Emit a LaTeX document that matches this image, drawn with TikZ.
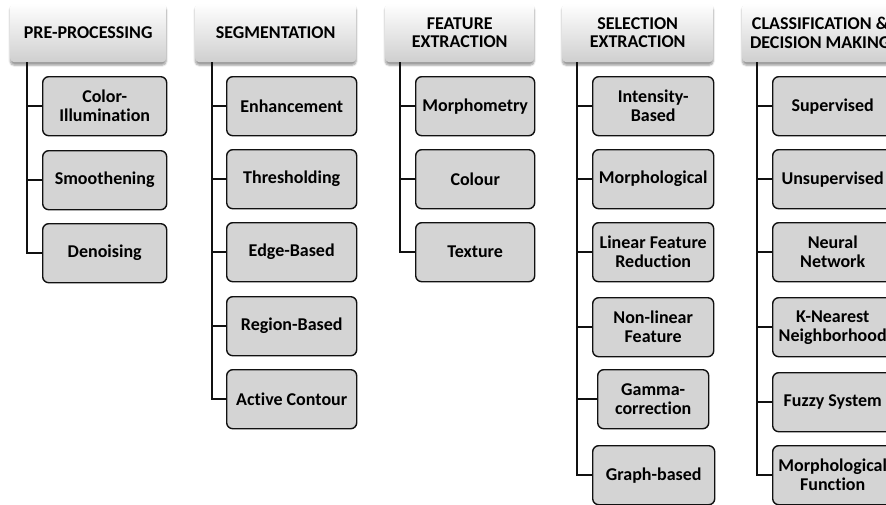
\documentclass[tikz,border=0pt]{standalone}
\usepackage{fontspec}
\setmainfont{Carlito}[Ligatures=NoCommon]
\usetikzlibrary{shadows.blur}
\definecolor{boxgray}{HTML}{D4D4D4}
\definecolor{hdrbot}{HTML}{CFCFCF}
\definecolor{linec}{HTML}{111111}
\tikzset{
  hdr/.style={anchor=north west, rounded corners=4pt, top color=white, bottom color=hdrbot,
    blur shadow={shadow xshift=0pt, shadow yshift=-3pt, shadow blur steps=6, shadow opacity=40},
    align=center, font=\fontsize{18}{18.5}\selectfont\bfseries, inner sep=1pt},
  kid/.style={anchor=north west, draw=linec, line width=1.4pt, rounded corners=6pt, fill=boxgray,
    align=center, font=\fontsize{18}{19}\selectfont\bfseries, inner sep=1pt, minimum height=59pt},
  conn/.style={draw=linec, line width=1.8pt},
}
\begin{document}
\begin{tikzpicture}[x=1pt,y=-1pt]
\useasboundingbox (0,0) rectangle (886,504);
% headers
\node[hdr, minimum width=156pt, minimum height=59pt] (h1) at (10,3) {PRE-PROCESSING};
\node[hdr, minimum width=161pt, minimum height=59pt] (h2) at (195,3) {SEGMENTATION};
\node[hdr, minimum width=149pt, minimum height=59pt] (h3) at (385,3) {FEATURE\\EXTRACTION};
\node[hdr, minimum width=151pt, minimum height=59pt] (h4) at (562,3) {SELECTION\\EXTRACTION};
\node[hdr, minimum width=156pt, minimum height=59pt] (h5) at (742,3) {CLASSIFICATION \&\\DECISION MAKING};
% trunk tops
\coordinate (t1) at (27,62);
\coordinate (t2) at (212,62);
\coordinate (t3) at (400,62);
\coordinate (t4) at (577,62);
\coordinate (t5) at (757,62);
% pre-processing
\node[kid, minimum width=124pt] (a1) at (42,76) {Color-\\Illumination};
\node[kid, minimum width=124pt] (a2) at (42,150) {Smoothening};
\node[kid, minimum width=124pt] (a3) at (42,223) {Denoising};
% segmentation
\node[kid, minimum width=130pt] (b1) at (226,76) {Enhancement};
\node[kid, minimum width=130pt] (b2) at (226,149) {Thresholding};
\node[kid, minimum width=130pt] (b3) at (226,222) {Edge-Based};
\node[kid, minimum width=130pt] (b4) at (226,296) {Region-Based};
\node[kid, minimum width=130pt] (b5) at (226,369) {Active Contour};
% feature extraction
\node[kid, minimum width=119pt] (c1) at (415,76) {Morphometry};
\node[kid, minimum width=119pt] (c2) at (415,149) {Colour};
\node[kid, minimum width=119pt] (c3) at (415,222) {Texture};
% selection extraction
\node[kid, minimum width=121pt] (d1) at (592,76) {Intensity-\\Based};
\node[kid, minimum width=121pt] (d2) at (592,149) {Morphological};
\node[kid, minimum width=121pt] (d3) at (592,222) {Linear Feature\\Reduction};
\node[kid, minimum width=121pt] (d4) at (592,297) {Non-linear\\Feature};
\node[kid, minimum width=111pt] (d5) at (597,369) {Gamma-\\correction};
\node[kid, minimum width=122pt] (d6) at (592,445) {Graph-based};
% classification
\node[kid, minimum width=120pt] (e1) at (772,76) {Supervised};
\node[kid, minimum width=120pt] (e2) at (772,149) {Unsupervised};
\node[kid, minimum width=120pt] (e3) at (772,222) {Neural\\Network};
\node[kid, minimum width=120pt] (e4) at (772,297) {K-Nearest\\Neighborhood};
\node[kid, minimum width=120pt] (e5) at (772,372) {Fuzzy System};
\node[kid, minimum width=120pt] (e6) at (772,445) {Morphological\\Function};
% connectors
\foreach \k in {a1,a2,a3} \draw[conn] (t1) |- (\k.west);
\foreach \k in {b1,b2,b3,b4,b5} \draw[conn] (t2) |- (\k.west);
\foreach \k in {c1,c2,c3} \draw[conn] (t3) |- (\k.west);
\foreach \k in {d1,d2,d3,d4,d5,d6} \draw[conn] (t4) |- (\k.west);
\foreach \k in {e1,e2,e3,e4,e5,e6} \draw[conn] (t5) |- (\k.west);
\end{tikzpicture}
\end{document}
